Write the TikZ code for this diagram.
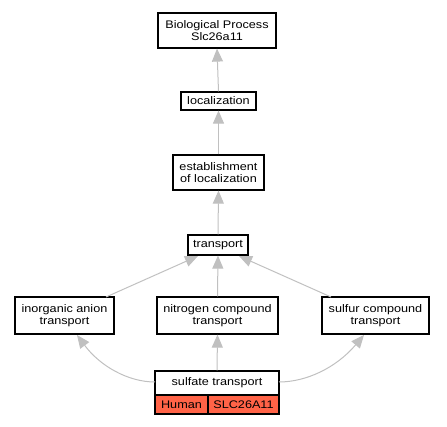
\documentclass[tikz,border=0pt]{standalone}
\usepackage{fontspec}
\setmainfont{Liberation Sans}[FakeStretch=1.15]
\usetikzlibrary{arrows.meta}
\definecolor{edgegray}{HTML}{C0C0C0}
\definecolor{tomatofill}{HTML}{FF6347}
\begin{document}
\begin{tikzpicture}[x=1pt,y=-1pt,
  term/.style={draw=black,line width=1.2pt,fill=white,rectangle,inner sep=0pt,align=center,font=\fontsize{11}{11.5}\selectfont},
  cell/.style={draw=black,line width=1.2pt,fill=tomatofill,rectangle,inner sep=0pt,align=center,font=\fontsize{11}{11.5}\selectfont},
  isa/.style={draw=edgegray,line width=1pt,-{Triangle[length=13pt,width=11pt]}}]
\useasboundingbox (0,0) rectangle (447,427);
\node[term,minimum width=118pt,minimum height=35pt] (bp) at (217,30.5) {Biological Process\\Slc26a11};
\node[term,minimum width=75pt,minimum height=18pt] (loc) at (218.5,101) {localization};
\node[term,minimum width=91pt,minimum height=35pt] (est) at (218.5,172.5) {establishment\\of localization};
\node[term,minimum width=60pt,minimum height=20pt] (tr) at (218,245) {transport};
\node[term,minimum width=99pt,minimum height=37pt] (ia) at (64.5,315.5) {inorganic anion\\transport};
\node[term,minimum width=121pt,minimum height=37pt] (nc) at (217.5,315.5) {nitrogen compound\\transport};
\node[term,minimum width=107pt,minimum height=37pt] (sc) at (375.5,315.5) {sulfur compound\\transport};
\node[term,minimum width=124pt,minimum height=24pt] (st) at (217,383) {sulfate transport};
\node[cell,minimum width=53pt,minimum height=19pt] (hu) at (181.5,404.5) {Human};
\node[cell,minimum width=71pt,minimum height=19pt] (sl) at (243.5,404.5) {SLC26A11};
\coordinate (iatop) at (106,297);
\coordinate (sctop) at (331,297);
\coordinate (trl) at (198,256);
\coordinate (trr) at (239,256);
\coordinate (stl) at (155,382);
\coordinate (str) at (279,382);
\coordinate (iabot) at (77,335);
\coordinate (scbot) at (364,335);
\draw[isa] (loc.north) -- (bp.south);
\draw[isa] (est.north) -- (loc.south);
\draw[isa] (tr.north) -- (est.south);
\draw[isa] (iatop) -- (trl);
\draw[isa] (nc.north) -- (tr.south);
\draw[isa] (sctop) -- (trr);
\draw[isa] (st.north) -- (nc.south);
\draw[isa] (stl) .. controls (128,382) and (100,366) .. (iabot);
\draw[isa] (str) .. controls (306,382) and (336,368) .. (scbot);
\end{tikzpicture}
\end{document}
